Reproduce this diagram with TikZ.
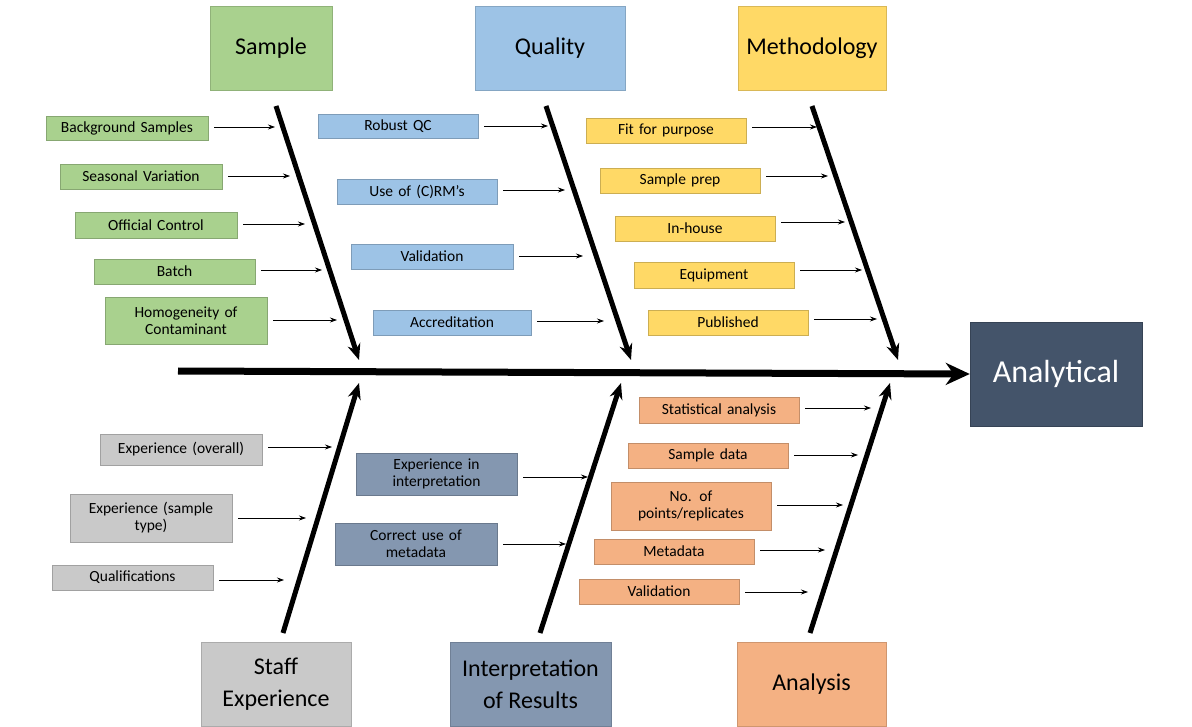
\documentclass[tikz,border=0pt]{standalone}
\usepackage{fontspec}
\setmainfont{Carlito}
\usetikzlibrary{arrows.meta}
\definecolor{cgreen}{HTML}{A9D18E}
\definecolor{cblue}{HTML}{9DC3E6}
\definecolor{cyellow}{HTML}{FFD966}
\definecolor{cgray}{HTML}{C9C9C9}
\definecolor{cslate}{HTML}{8497B0}
\definecolor{corange}{HTML}{F4B183}
\definecolor{cdark}{HTML}{44546A}
\tikzset{
 fb/.style={draw=#1!80!black,line width=0.6pt,fill=#1,align=center,inner sep=1pt,font=\fontsize{15.5}{17}\selectfont},
 cat/.style={draw=#1!85!black,line width=0.6pt,fill=#1,align=center,minimum width=150pt,minimum height=84pt,font=\fontsize{24}{32}\selectfont},
 sarr/.style={-{Stealth[length=7pt,width=5pt]},line width=0.7pt},
 bone/.style={-{Stealth[length=16pt,width=13pt]},line width=5pt},
}
\newcommand\fbx[9]{\node[fb=#6,minimum width=#4pt,minimum height=#5pt,text width=#4pt-4pt] (#1) at (#2,#3) {#7};
 \coordinate (#1t) at (#8,#9); \draw[sarr] ([xshift=6pt]#1.east|-#1t) -- (#1t);}
\begin{document}
\begin{tikzpicture}[x=1pt,y=-1pt]
\useasboundingbox (0,0) rectangle (1192,727);
% categories
\node[cat=cgreen,minimum width=122pt] (sample) at (271,48) {Sample};
\node[cat=cblue] (quality) at (550,48) {Quality};
\node[cat=cyellow,minimum width=148pt] (meth) at (812,48) {Methodology};
\node[cat=cgray] (staff) at (276,684.5) {Staff\\Experience};
\node[cat=cslate,minimum width=161pt] (interp) at (530.5,684.5) {Interpretation\\of Results};
\node[cat=corange,minimum width=149pt] (anal) at (811.5,684.5) {Analysis};
\node[draw=cdark!80!black,fill=cdark,text=white,minimum width=172pt,minimum height=104pt,font=\fontsize{32}{38}\selectfont] (res) at (1056,374) {Analytical};
% spine
\coordinate (s0) at (178,371);
\draw[-{Stealth[length=24pt,width=22pt]},line width=7pt] (s0) -- (res.west);
% bones
\coordinate (b1a) at (276,106); \coordinate (b1b) at (359,360);
\coordinate (b2a) at (546,106); \coordinate (b2b) at (631,360);
\coordinate (b3a) at (812,106); \coordinate (b3b) at (898,360);
\coordinate (b4a) at (283,633); \coordinate (b4b) at (359,383);
\coordinate (b5a) at (540,633); \coordinate (b5b) at (621,383);
\coordinate (b6a) at (810,633); \coordinate (b6b) at (890,383);
\foreach \i in {1,...,6} \draw[bone] (b\i a) -- (b\i b);
% sample
\fbx{g1}{127}{128}{162}{24}{cgreen}{Background Samples}{275}{127}
\fbx{g2}{141}{176.5}{162}{25}{cgreen}{Seasonal Variation}{290}{176}
\fbx{g3}{156}{225}{162}{26}{cgreen}{Official Control}{305}{224}
\fbx{g4}{174.5}{271.5}{161}{25}{cgreen}{Batch}{322}{270}
\fbx{g5}{186}{320.5}{162}{47}{cgreen}{Homogeneity of\\Contaminant}{337}{320}
% quality
\fbx{q1}{398}{126}{160}{24}{cblue}{Robust QC}{548}{126}
\fbx{q2}{417}{191.5}{160}{25}{cblue}{Use of (C)RM’s}{565}{190}
\fbx{q3}{432}{256.5}{162}{25}{cblue}{Validation}{583}{256}
\fbx{q4}{452}{322.5}{158}{25}{cblue}{Accreditation}{604}{321}
% methodology
\fbx{m1}{666}{130.5}{160}{25}{cyellow}{Fit for purpose}{817}{127}
\fbx{m2}{680}{180.5}{160}{25}{cyellow}{Sample prep}{828}{176}
\fbx{m3}{695}{228.5}{160}{25}{cyellow}{In-house}{845}{222}
\fbx{m4}{714}{275}{160}{26}{cyellow}{Equipment}{862}{270}
\fbx{m5}{728}{322.5}{160}{25}{cyellow}{Published}{877}{319}
% staff
\fbx{s1}{181}{449.5}{162}{31}{cgray}{Experience (overall)}{332}{447}
\fbx{s2}{151}{518}{162}{48}{cgray}{Experience (sample\\type)}{306}{518}
\fbx{s3}{132.5}{577.5}{161}{25}{cgray}{Qualifications}{284}{580}
% interpretation
\fbx{i1}{436.5}{474}{161}{42}{cslate}{Experience in\\interpretation}{588}{477}
\fbx{i2}{416}{544}{162}{42}{cslate}{Correct use of\\metadata}{566}{544}
% analysis
\fbx{a1}{719}{410}{160}{26}{corange}{Statistical analysis}{871}{408}
\fbx{a2}{708}{455.5}{160}{25}{corange}{Sample data}{858}{455}
\fbx{a3}{691}{506}{160}{48}{corange}{No. of\\points/replicates}{843}{505}
\fbx{a4}{674}{551.5}{160}{25}{corange}{Metadata}{825}{550}
\fbx{a5}{659}{591.5}{160}{25}{corange}{Validation}{808}{592}
\end{tikzpicture}
\end{document}
